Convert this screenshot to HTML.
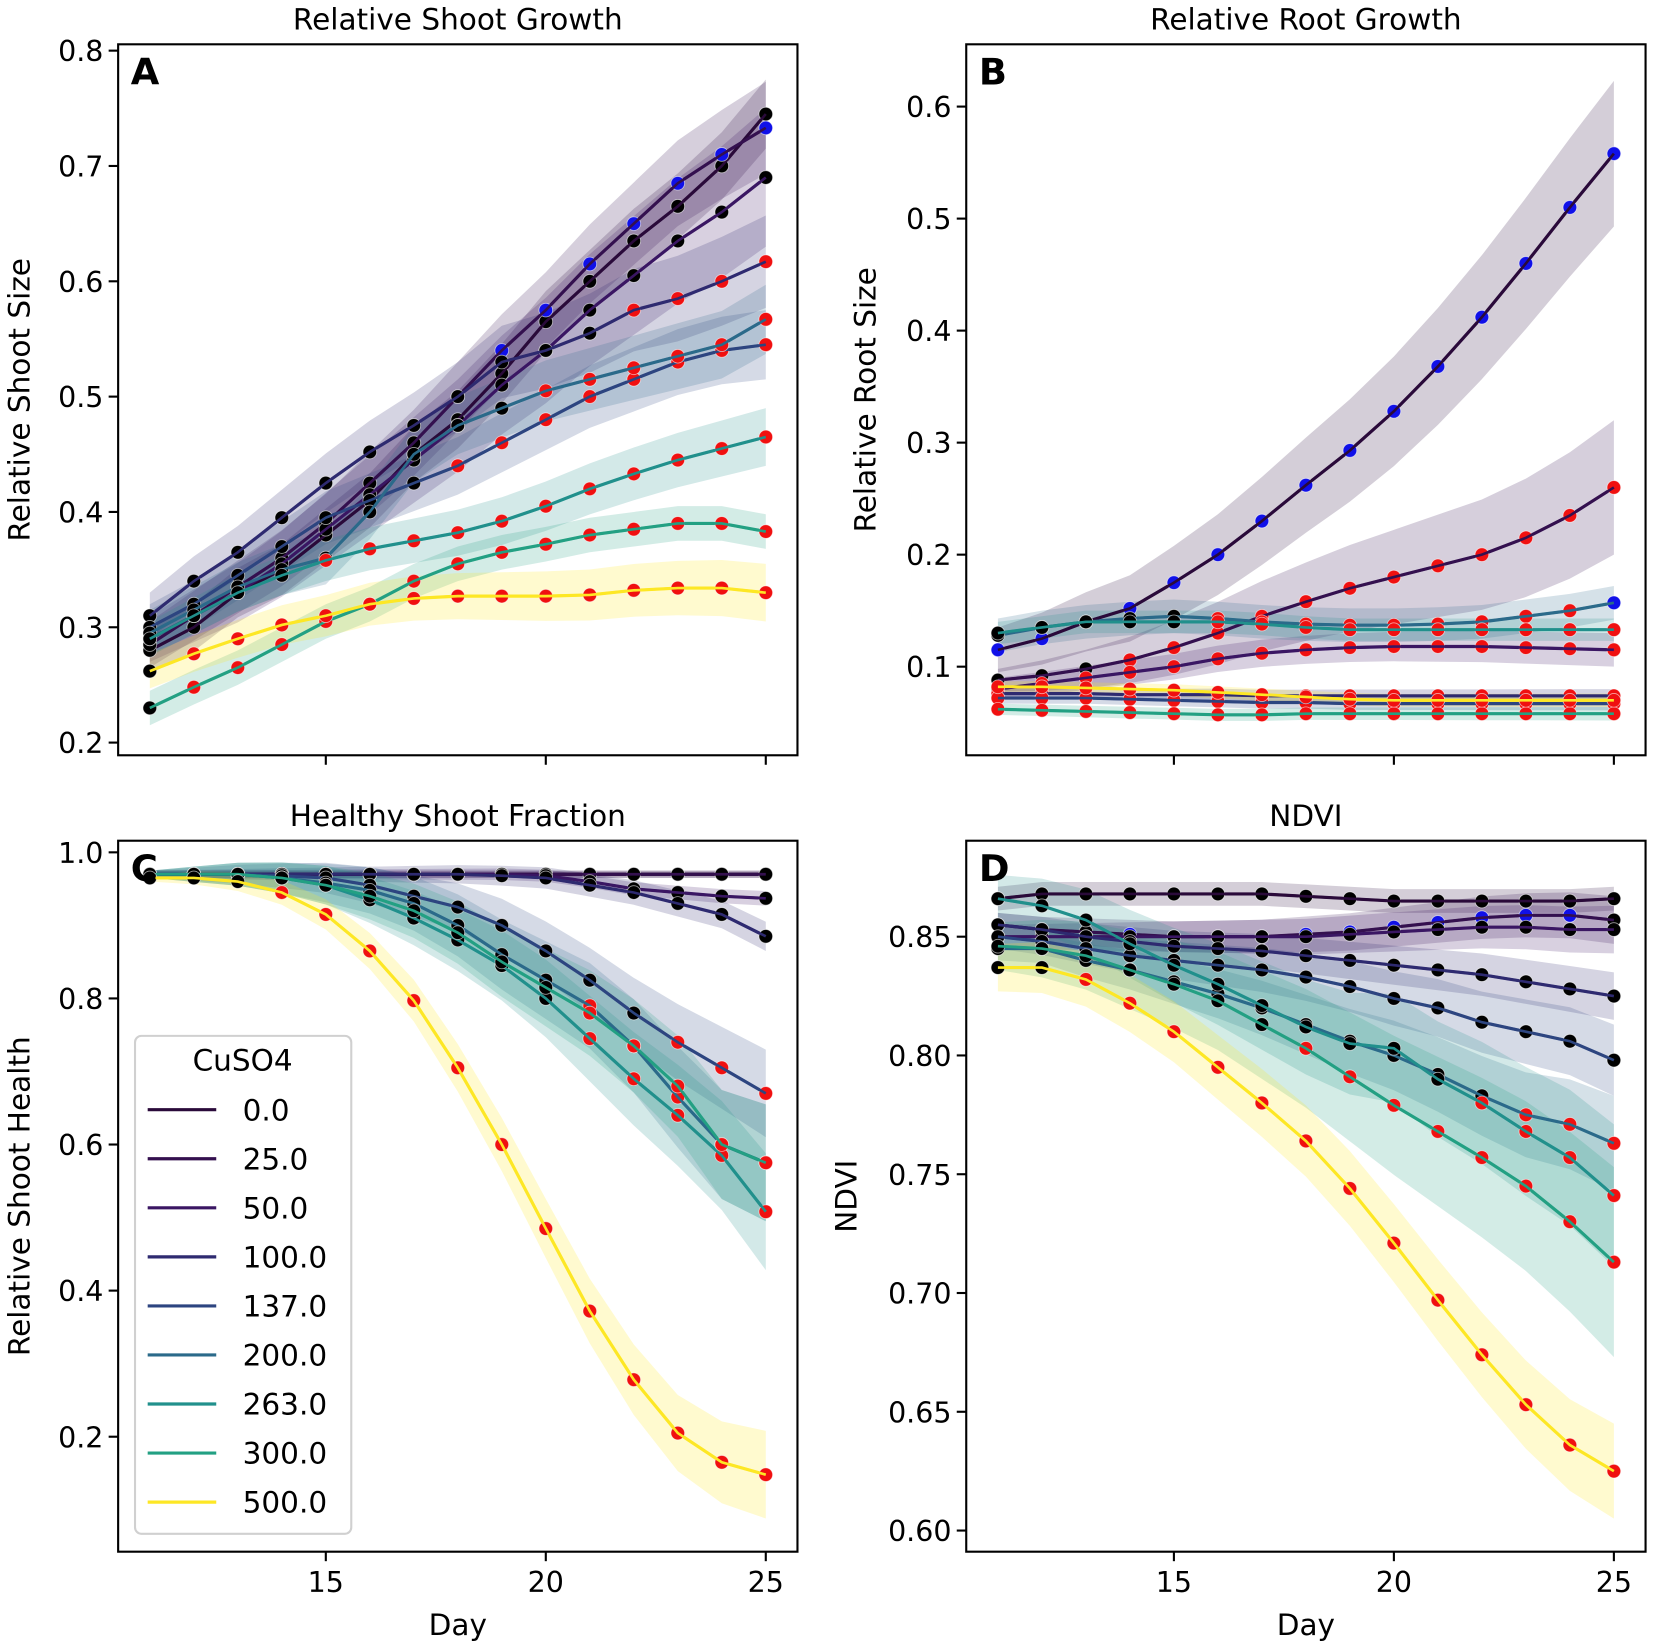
<!DOCTYPE html>
<html><head><meta charset="utf-8"><style>
body{margin:0;background:#fff}
svg{display:block;font-family:"DejaVu Sans","Liberation Sans",sans-serif}
</style></head><body>
<svg id="fig" width="1654" height="1648" viewBox="0 0 1568 1562.3" preserveAspectRatio="none" xmlns="http://www.w3.org/2000/svg"></svg>
<script>
const days=[11,12,13,14,15,16,17,18,19,20,21,22,23,24,25];
const concs=["0.0","25.0","50.0","100.0","137.0","200.0","263.0","300.0","500.0"];
const colors=["#2a0a3a","#34104f","#3a1663","#2e2a70","#2d4580","#2b6a8a","#21908c","#23a083","#fde725"];
// Panel A values
const shootA0=[0.28,0.30,0.33,0.35,0.38,0.41,0.45,0.48,0.52,0.565,0.60,0.635,0.665,0.70,0.745];
const shootA25=[0.285,0.31,0.335,0.36,0.39,0.425,0.46,0.50,0.54,0.575,0.615,0.65,0.685,0.71,0.733];
const shootA50=[0.29,0.31,0.33,0.355,0.385,0.415,0.445,0.475,0.51,0.54,0.575,0.605,0.635,0.66,0.69];
const shootA100=[0.31,0.34,0.365,0.395,0.425,0.452,0.475,0.50,0.53,0.54,0.555,0.575,0.585,0.60,0.617];
const shootA137=[0.30,0.32,0.345,0.37,0.395,0.41,0.425,0.44,0.46,0.48,0.50,0.515,0.53,0.54,0.545];
const shootA200=[0.295,0.315,0.335,0.35,0.36,0.40,0.45,0.475,0.49,0.505,0.515,0.525,0.535,0.545,0.567];
const shootA263=[0.29,0.31,0.33,0.345,0.358,0.368,0.375,0.382,0.392,0.405,0.42,0.433,0.445,0.455,0.465];
const shootA300=[0.23,0.248,0.265,0.285,0.305,0.32,0.34,0.355,0.365,0.372,0.38,0.385,0.39,0.39,0.383];
const shootA500=[0.262,0.277,0.29,0.302,0.31,0.32,0.325,0.327,0.327,0.327,0.328,0.332,0.334,0.334,0.33];
// Panel B values
const rootB0=[0.115,0.125,0.14,0.152,0.175,0.2,0.23,0.262,0.293,0.328,0.368,0.412,0.46,0.51,0.558];
const rootB25=[0.088,0.092,0.098,0.106,0.117,0.13,0.145,0.158,0.17,0.18,0.19,0.2,0.215,0.235,0.26];
const rootB50=[0.08,0.085,0.09,0.095,0.1,0.107,0.112,0.115,0.117,0.118,0.118,0.118,0.117,0.116,0.115];
const rootB100=[0.076,0.076,0.076,0.075,0.075,0.075,0.074,0.074,0.074,0.074,0.074,0.074,0.074,0.074,0.074];
const rootB137=[0.072,0.072,0.072,0.071,0.070,0.069,0.068,0.068,0.067,0.067,0.067,0.067,0.067,0.067,0.067];
const rootB200=[0.128,0.135,0.14,0.143,0.145,0.143,0.14,0.138,0.137,0.137,0.138,0.14,0.145,0.15,0.157];
const rootB263=[0.13,0.135,0.14,0.14,0.14,0.14,0.138,0.135,0.133,0.133,0.133,0.133,0.133,0.133,0.133];
const rootB300=[0.062,0.061,0.06,0.059,0.058,0.057,0.057,0.058,0.058,0.058,0.058,0.058,0.058,0.058,0.058];
const rootB500=[0.082,0.082,0.081,0.08,0.079,0.077,0.075,0.073,0.071,0.07,0.07,0.07,0.07,0.07,0.07];
// Panel C values
const healthC0=[0.97,0.97,0.97,0.97,0.97,0.97,0.97,0.97,0.97,0.97,0.97,0.97,0.97,0.97,0.97];
const healthC25=[0.97,0.97,0.97,0.97,0.97,0.97,0.97,0.97,0.97,0.97,0.97,0.97,0.97,0.97,0.97];
const healthC50=[0.97,0.97,0.97,0.97,0.97,0.97,0.97,0.97,0.97,0.968,0.96,0.95,0.945,0.94,0.937];
const healthC100=[0.97,0.97,0.97,0.97,0.97,0.97,0.97,0.97,0.968,0.965,0.955,0.945,0.93,0.915,0.885];
const healthC137=[0.97,0.97,0.97,0.968,0.965,0.955,0.94,0.925,0.9,0.865,0.825,0.78,0.74,0.705,0.67];
const healthC200=[0.97,0.97,0.97,0.965,0.958,0.948,0.93,0.9,0.86,0.825,0.79,0.735,0.665,0.6,0.575];
const healthC263=[0.97,0.97,0.97,0.965,0.955,0.935,0.91,0.88,0.845,0.8,0.745,0.69,0.64,0.585,0.508];
const healthC300=[0.97,0.97,0.97,0.965,0.955,0.94,0.92,0.89,0.85,0.815,0.78,0.735,0.68,0.6,0.575];
const healthC500=[0.965,0.965,0.96,0.945,0.915,0.865,0.797,0.705,0.6,0.485,0.372,0.278,0.205,0.165,0.148];
// Panel D values
const ndviD0=[0.866,0.868,0.868,0.868,0.868,0.868,0.868,0.867,0.866,0.865,0.865,0.865,0.865,0.865,0.866];
const ndviD25=[0.855,0.853,0.852,0.851,0.85,0.85,0.85,0.851,0.852,0.854,0.856,0.858,0.859,0.859,0.857];
const ndviD50=[0.85,0.85,0.85,0.85,0.85,0.85,0.85,0.85,0.851,0.852,0.853,0.854,0.854,0.853,0.853];
const ndviD100=[0.855,0.853,0.85,0.848,0.846,0.845,0.844,0.842,0.840,0.838,0.836,0.834,0.831,0.828,0.825];
const ndviD137=[0.85,0.848,0.845,0.842,0.84,0.838,0.836,0.833,0.829,0.824,0.82,0.814,0.81,0.806,0.798];
const ndviD200=[0.845,0.845,0.84,0.836,0.831,0.826,0.82,0.813,0.806,0.8,0.792,0.783,0.775,0.771,0.763];
const ndviD263=[0.866,0.863,0.857,0.847,0.838,0.83,0.821,0.812,0.805,0.803,0.79,0.78,0.768,0.757,0.741];
const ndviD300=[0.846,0.845,0.842,0.836,0.83,0.823,0.813,0.803,0.791,0.779,0.768,0.757,0.745,0.73,0.713];
const ndviD500=[0.837,0.837,0.832,0.822,0.81,0.795,0.78,0.764,0.744,0.721,0.697,0.674,0.653,0.636,0.625];
// marker significance codes (k=black, r=red, b=blue)
const sigA=["kkkkkkkkkkkkkkk","kkkkkkkbbbbbbbb","kkkkkkkkkkkkkkk","kkkkkkkkkkkrrrr","kkkkkkkrrrrrrrr","kkkkkkkkkrrrrrr","kkkkrrrrrrrrrrr","krrrrrrrrrrrrrr","krrrrrrrrrrrrrr"];
const sigB=["bbkbbbbbbbbbbbb","kkkrrrrrrrrrrrr","krrrrrrrrrrrrrr","rrrrrrrrrrrrrrr","rrrrrrrrrrrrrrr","kkkkkrrrrrrrrrb","kkkkkrrrrrrrrrr","rrrrrrrrrrrrrrr","rrrrrrrrrrrrrrr"];
const sigC=["kkkkkkkkkkkkkkk","kkkkkkkkkkkkkkk","kkkkkkkkkkkkkkk","kkkkkkkkkkkkkkk","kkkkkkkkkkkkrrr","kkkkkkkkkkrrrrr","kkkkkkkkkkrrrrr","kkkkkkkkkkrrrrr","kkkrrrrrrrrrrrr"];
const sigD=["kkkkkkkkkkkkkkk","kkkbbbbbbbbbbbk","kkkkkkkkkkkkkkk","kkkkkkkkkkkkkkk","kkkkkkkkkkkkkkk","kkkkkkkkkkkkrrr","kkkkkkkkkkkrrrr","kkkkkkkrrrrrrrr","kkrrrrrrrrrrrrr"];
// band half-widths (start,end)
const bandA=[[0.02,0.03],[0.02,0.04],[0.02,0.06],[0.02,0.04],[0.02,0.03],[0.02,0.03],[0.015,0.025],[0.015,0.015],[0.015,0.025]];
const bandB=[[0.02,0.065],[0.01,0.06],[0.01,0.015],[0.005,0.006],[0.005,0.006],[0.015,0.015],[0.01,0.01],[0.005,0.006],[0.005,0.006]];
const bandC=[[0.005,0.005],[0.005,0.005],[0.005,0.01],[0.005,0.02],[0.005,0.06],[0.005,0.08],[0.005,0.08],[0.005,0.08],[0.005,0.06]];
const bandD=[[0.005,0.005],[0.005,0.01],[0.005,0.01],[0.005,0.01],[0.005,0.015],[0.005,0.02],[0.01,0.03],[0.01,0.04],[0.01,0.02]];
const ticksA=["0.2","0.3","0.4","0.5","0.6","0.7","0.8"];
const ticksB=["0.1","0.2","0.3","0.4","0.5","0.6"];
const ticksC=["0.2","0.4","0.6","0.8","1.0"];
const ticksD=["0.60","0.65","0.70","0.75","0.80","0.85"];
const xTicks=[15,20,25];

const NS="http://www.w3.org/2000/svg";
const svg=document.getElementById('fig');
function mk(tag,attrs,parent){const e=document.createElementNS(NS,tag);for(const k in attrs)e.setAttribute(k,attrs[k]);(parent||svg).appendChild(e);return e;}
const mcol={k:"#000",r:"#f01010",b:"#1010e8"};

const panels=[
 {id:"a",letter:"A",title:"Relative Shoot Growth",ylab:"Relative Shoot Size",x0:112,x1:756,y0:42,y1:716,ymin:0.189,ymax:0.8055,series:[shootA0,shootA25,shootA50,shootA100,shootA137,shootA200,shootA263,shootA300,shootA500],sig:sigA,band:bandA,ticks:ticksA,xl:false,ylx:28},
 {id:"b",letter:"B",title:"Relative Root Growth",ylab:"Relative Root Size",x0:916,x1:1560,y0:42,y1:716,ymin:0.0209,ymax:0.6556,series:[rootB0,rootB25,rootB50,rootB100,rootB137,rootB200,rootB263,rootB300,rootB500],sig:sigB,band:bandB,ticks:ticksB,xl:false,ylx:830},
 {id:"c",letter:"C",title:"Healthy Shoot Fraction",ylab:"Relative Shoot Health",x0:112,x1:756,y0:797,y1:1471,ymin:0.0426,ymax:1.0159,series:[healthC0,healthC25,healthC50,healthC100,healthC137,healthC200,healthC263,healthC300,healthC500],sig:sigC,band:bandC,ticks:ticksC,xl:true,ylx:28},
 {id:"d",letter:"D",title:"NDVI",ylab:"NDVI",x0:916,x1:1560,y0:797,y1:1471,ymin:0.5911,ymax:0.8904,series:[ndviD0,ndviD25,ndviD50,ndviD100,ndviD137,ndviD200,ndviD263,ndviD300,ndviD500],sig:sigD,band:bandD,ticks:ticksD,xl:true,ylx:812}
];
const XMIN=10.28,XMAX=25.72;
panels.forEach(p=>{
 const g=mk('g',{});
 
 
 const sx=d=>p.x0+(d-XMIN)/(XMAX-XMIN)*(p.x1-p.x0);
 const sy=v=>p.y1-(v-p.ymin)/(p.ymax-p.ymin)*(p.y1-p.y0);
 p.series.forEach((s,i)=>{
  const [b0,b1]=p.band[i];const n=s.length;
  const up=s.map((v,j)=>sx(days[j])+','+sy(v+b0+(b1-b0)*j/(n-1)));
  const lo=s.map((v,j)=>sx(days[j])+','+sy(v-b0-(b1-b0)*j/(n-1))).reverse();
  const poly=mk('polygon',{points:up.concat(lo).join(' '),fill:colors[i],'fill-opacity':i==8?0.22:0.2,stroke:'none'},g);
  
  
 });
 p.series.forEach((s,i)=>{
  const l=mk('polyline',{points:s.map((v,j)=>sx(days[j])+','+sy(v)).join(' '),fill:'none',stroke:colors[i],'stroke-width':3},g);
  
  
 });
 p.series.forEach((s,i)=>{
  s.forEach((v,j)=>{
   const c=mk('circle',{cx:sx(days[j]),cy:sy(v),r:6.5,fill:mcol[p.sig[i][j]],stroke:'#fff','stroke-width':0.8,'stroke-opacity':0.6},g);
   
   
  });
  const l2=mk('polyline',{points:s.map((v,j)=>sx(days[j])+','+sy(v)).join(' '),fill:'none',stroke:colors[i],'stroke-width':2.5},g);
  
  
 });
 const fr=mk('rect',{x:p.x0,y:p.y0,width:p.x1-p.x0,height:p.y1-p.y0,fill:'none',stroke:'#000','stroke-width':2},g);
 
 
 p.ticks.forEach(t=>{
  const y=sy(parseFloat(t));
  mk('line',{x1:p.x0-9,x2:p.x0,y1:y,y2:y,stroke:'#000','stroke-width':2},g);
  const tx=mk('text',{x:p.x0-14,y:y+10,'font-size':27,'text-anchor':'end'},g);
  tx.textContent=t;
  
  
 });
 xTicks.forEach(t=>{
  const x=sx(t);
  mk('line',{x1:x,x2:x,y1:p.y1,y2:p.y1+9,stroke:'#000','stroke-width':2},g);
  if(p.xl){const tx=mk('text',{x:x,y:p.y1+38,'font-size':27,'text-anchor':'middle'},g);tx.textContent=t;
   
   }
 });
 const ti=mk('text',{x:(p.x0+p.x1)/2,y:p.y0-14,'font-size':28,'text-anchor':'middle'},g);ti.textContent=p.title;
 
 
 const le=mk('text',{x:p.x0+12,y:p.y0+38,'font-size':35,'font-weight':'bold'},g);le.textContent=p.letter;
 
 
 const yl=mk('text',{x:p.ylx,y:(p.y0+p.y1)/2,'font-size':28,'text-anchor':'middle',transform:'rotate(-90 '+p.ylx+' '+((p.y0+p.y1)/2)+')'},g);yl.textContent=p.ylab;
 
 
 if(p.xl){const xl=mk('text',{x:(p.x0+p.x1)/2,y:1550,'font-size':28,'text-anchor':'middle'},g);xl.textContent='Day';
  
  }
});
// legend
const lg=mk('g',{});


mk('rect',{x:128,y:982,width:205,height:472,rx:6,fill:'#fff','fill-opacity':0.85,stroke:'#d0d0d0','stroke-width':2},lg);
const lt=mk('text',{x:230,y:1015,'font-size':28,'text-anchor':'middle'},lg);lt.textContent='CuSO4';


concs.forEach((c,i)=>{
 const y=1052+i*46.5;
 const e=mk('g',{},lg);
 
 
 mk('line',{x1:140,x2:205,y1:y,y2:y,stroke:colors[i],'stroke-width':3},e);
 const t=mk('text',{x:230,y:y+10,'font-size':28},e);t.textContent=c;
});
</script>
</body></html>
